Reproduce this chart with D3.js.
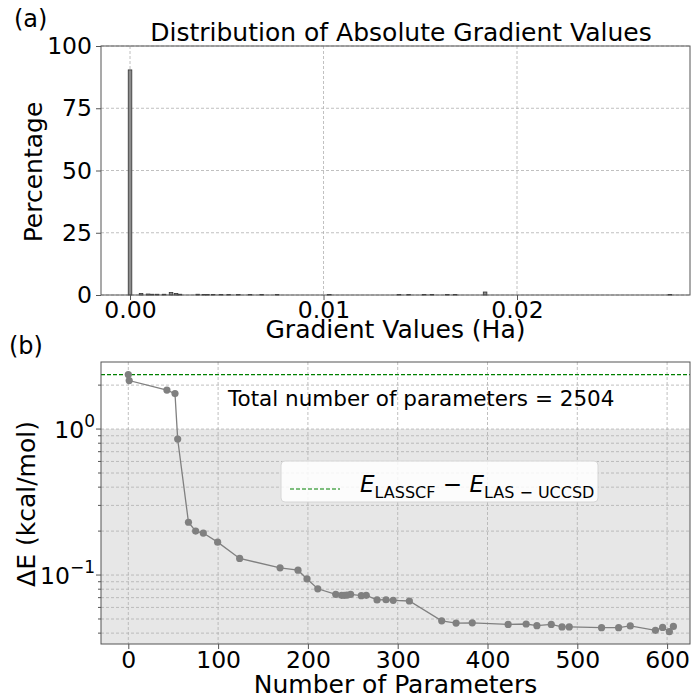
<!DOCTYPE html>
<html>
<head>
<meta charset="utf-8">
<script src="https://cdn.jsdelivr.net/npm/d3@7"></script>
<style>
  body { margin: 0; background: #fff; }
  text { font-family: "DejaVu Sans", sans-serif; fill: #000; }
</style>
</head>
<body>
<script>
// ---- data ----
// (a) histogram of absolute gradients: bin centres (Ha) and percentage
var binCenters = [0.0000, 0.00057, 0.00093, 0.00114, 0.0014, 0.00176, 0.00212, 0.00238, 0.00258,
  0.0035, 0.00382, 0.0040, 0.0043, 0.0047, 0.0051, 0.0056, 0.0062, 0.0068, 0.0076,
  0.0103, 0.0139, 0.0144, 0.0152, 0.0156, 0.0164, 0.0168, 0.01835, 0.0279];
var binPercent = [90.4, 0.6, 0.4, 0.3, 0.3, 0.3, 1.0, 0.6, 0.3,
  0.3, 0.2, 0.2, 0.2, 0.2, 0.2, 0.2, 0.2, 0.2, 0.2,
  0.2, 0.2, 0.2, 0.2, 0.2, 0.2, 0.2, 1.2, 0.2];
var binWidth = 0.000185;
var histYTicks = [0, 25, 50, 75, 100];
var histXTicks = [0.00, 0.01, 0.02];

// (b) convergence: number of parameters vs energy error (kcal/mol)
var nParams = [0, 1, 43, 52, 55, 67, 75, 83.5, 99.5, 124, 169, 189, 199, 211, 231, 237.6, 240.5,
  243.5, 247.6, 259.5, 265, 277, 287, 295, 313, 349, 365, 383, 423, 443, 455, 471, 483, 491,
  527, 546, 559, 587, 595, 602.5, 607];
var deltaE = [2.36, 2.15, 1.85, 1.75, 0.854, 0.230, 0.200, 0.194, 0.168, 0.130, 0.112, 0.108, 0.094,
  0.0805, 0.0738, 0.0726, 0.0726, 0.0728, 0.0738, 0.0722, 0.0726, 0.0675, 0.0677, 0.0671, 0.0664,
  0.0486, 0.0469, 0.0471, 0.0459, 0.0462, 0.0450, 0.0459, 0.0441, 0.0441, 0.0436, 0.0436, 0.0448,
  0.0418, 0.0438, 0.0409, 0.0445];
var lasscfGap = 2.36;
var totalParams = 2504;
var convXTicks = [0, 100, 200, 300, 400, 500, 600];

// ---- layout ----
var width = 697, height = 698;
var left = 101, right = 690;
var tickFs = 23.5, labelFs = 25, titleFs = 25;

var svg = d3.select("body").append("svg")
    .attr("width", width)
    .attr("height", height);

var gridColor = "#b0b0b0";

function gridLine(g, x1, y1, x2, y2) {
    g.append("line")
        .attr("x1", x1).attr("y1", y1).attr("x2", x2).attr("y2", y2)
        .attr("stroke", gridColor)
        .attr("stroke-width", 0.8)
        .attr("stroke-dasharray", "3,2");
}

function styleAxis(g) {
    g.select(".domain").remove();
    g.selectAll("text").attr("font-size", tickFs).attr("font-family", "DejaVu Sans").attr("fill", "#000");
    g.selectAll("line").attr("stroke", "#555");
}

// ================= panel (a) =================
var topA = 46, botA = 295;
var xA = d3.scaleLinear().domain([-0.0015, 0.02894]).range([left, right]);
var yA = d3.scaleLinear().domain([0, 100]).range([botA, topA]);

var gA = svg.append("g");

// grid
histXTicks.forEach(function(t) { gridLine(gA, xA(t), topA, xA(t), botA); });
histYTicks.forEach(function(t) { gridLine(gA, left, yA(t), right, yA(t)); });

// bars
gA.selectAll("rect.bar")
    .data(binCenters)
    .enter().append("rect")
    .attr("class", "bar")
    .attr("x", function(d) { return xA(d - binWidth / 2); })
    .attr("width", function(d) { return xA(binWidth) - xA(0); })
    .attr("y", function(d, i) { return yA(binPercent[i]); })
    .attr("height", function(d, i) { return botA - yA(binPercent[i]); })
    .attr("fill", "#8c8c8c")
    .attr("stroke", "#333")
    .attr("stroke-width", 0.8);

// frame
gA.append("rect")
    .attr("x", left).attr("y", topA)
    .attr("width", right - left).attr("height", botA - topA)
    .attr("fill", "none").attr("stroke", "#555").attr("stroke-width", 1);

// axes
gA.append("g")
    .attr("transform", "translate(0," + botA + ")")
    .call(d3.axisBottom(xA).tickValues(histXTicks).tickFormat(d3.format(".2f")).tickSize(5).tickPadding(1))
    .call(styleAxis);

gA.append("g")
    .attr("transform", "translate(" + left + ",0)")
    .call(d3.axisLeft(yA).tickValues(histYTicks).tickSize(5).tickPadding(4))
    .call(styleAxis);

svg.append("text")
    .attr("x", 401).attr("y", 41)
    .attr("text-anchor", "middle").attr("font-size", titleFs)
    .text("Distribution of Absolute Gradient Values");

svg.append("text")
    .attr("x", (left + right) / 2).attr("y", 338)
    .attr("text-anchor", "middle").attr("font-size", labelFs)
    .text("Gradient Values (Ha)");

svg.append("text")
    .attr("transform", "translate(42," + 172 + ") rotate(-90)")
    .attr("text-anchor", "middle").attr("font-size", labelFs)
    .text("Percentage");

svg.append("text").attr("x", 14).attr("y", 27).attr("font-size", 24).text("(a)");

// ================= panel (b) =================
var topB = 362, botB = 644;
var xB = d3.scaleLinear().domain([-30.4, 625.5]).range([left, right]);
var yB = d3.scaleLog().domain([0.0337, 2.88]).range([botB, topB]);

var gB = svg.append("g");

// shaded band below 1 kcal/mol
gB.append("rect")
    .attr("x", left).attr("y", yB(1))
    .attr("width", right - left).attr("height", botB - yB(1))
    .attr("fill", "#e7e7e7");

// grid
convXTicks.forEach(function(t) { gridLine(gB, xB(t), topB, xB(t), botB); });
var minorTicks = [0.04, 0.05, 0.06, 0.07, 0.08, 0.09, 0.1, 0.2, 0.3, 0.4, 0.5, 0.6, 0.7, 0.8, 0.9, 1, 2];
minorTicks.forEach(function(t) { gridLine(gB, left, yB(t), right, yB(t)); });

// reference line
gB.append("line")
    .attr("x1", left).attr("x2", right)
    .attr("y1", yB(lasscfGap)).attr("y2", yB(lasscfGap))
    .attr("stroke", "green").attr("stroke-width", 1.2)
    .attr("stroke-dasharray", "4,2");

// convergence line and markers
var line = d3.line()
    .x(function(d, i) { return xB(nParams[i]); })
    .y(function(d) { return yB(d); });

gB.append("path")
    .datum(deltaE)
    .attr("d", line)
    .attr("fill", "none")
    .attr("stroke", "#808080")
    .attr("stroke-width", 1.3);

gB.selectAll("circle.pt")
    .data(deltaE)
    .enter().append("circle")
    .attr("class", "pt")
    .attr("cx", function(d, i) { return xB(nParams[i]); })
    .attr("cy", function(d) { return yB(d); })
    .attr("r", 3.6)
    .attr("fill", "#808080");

// frame
gB.append("rect")
    .attr("x", left).attr("y", topB)
    .attr("width", right - left).attr("height", botB - topB)
    .attr("fill", "none").attr("stroke", "#555").attr("stroke-width", 1);

// x axis
gB.append("g")
    .attr("transform", "translate(0," + botB + ")")
    .call(d3.axisBottom(xB).tickValues(convXTicks).tickSize(5).tickPadding(2))
    .call(styleAxis);

// y axis: minor ticks and major labels
var yAxisG = gB.append("g").attr("transform", "translate(" + left + ",0)");
minorTicks.forEach(function(t) {
    var major = (t === 1 || t === 0.1);
    yAxisG.append("line")
        .attr("x1", major ? -5 : -3).attr("x2", 0)
        .attr("y1", yB(t)).attr("y2", yB(t))
        .attr("stroke", "#555");
});
var majorY = [{v: 1, exp: "0"}, {v: 0.1, exp: "\u22121"}];
majorY.forEach(function(m) {
    var t = yAxisG.append("text")
        .attr("x", -6).attr("y", yB(m.v) + 9)
        .attr("text-anchor", "end").attr("font-size", tickFs);
    t.append("tspan").text("10");
    t.append("tspan").attr("font-size", 17).attr("dy", -11).text(m.exp);
});

svg.append("text")
    .attr("x", (left + right) / 2).attr("y", 693)
    .attr("text-anchor", "middle").attr("font-size", labelFs)
    .text("Number of Parameters");

svg.append("text")
    .attr("transform", "translate(35," + 504 + ") rotate(-90)")
    .attr("text-anchor", "middle").attr("font-size", labelFs)
    .text("\u0394E (kcal/mol)");

svg.append("text").attr("x", 9).attr("y", 354).attr("font-size", 24).text("(b)");

svg.append("text")
    .attr("x", 228).attr("y", 406)
    .attr("font-size", 21.5)
    .text("Total number of parameters = " + totalParams);

// legend
var leg = svg.append("g");
leg.append("rect")
    .attr("x", 281).attr("y", 461)
    .attr("width", 317).attr("height", 41)
    .attr("rx", 4)
    .attr("fill", "#fff").attr("fill-opacity", 0.85)
    .attr("stroke", "#d6d6d6");
leg.append("line")
    .attr("x1", 290).attr("x2", 340)
    .attr("y1", 489).attr("y2", 489)
    .attr("stroke", "green").attr("stroke-width", 1.2)
    .attr("stroke-dasharray", "4,2");
var lt = leg.append("text").attr("x", 360).attr("y", 492).attr("font-size", 23);
lt.append("tspan").attr("font-style", "italic").text("E");
lt.append("tspan").attr("font-size", 16).attr("dy", 6).text("LASSCF");
lt.append("tspan").attr("dy", -6).text(" \u2212 ");
lt.append("tspan").attr("font-style", "italic").text("E");
lt.append("tspan").attr("font-size", 16).attr("dy", 6).text("LAS \u2212 UCCSD");
</script>
</body>
</html>
